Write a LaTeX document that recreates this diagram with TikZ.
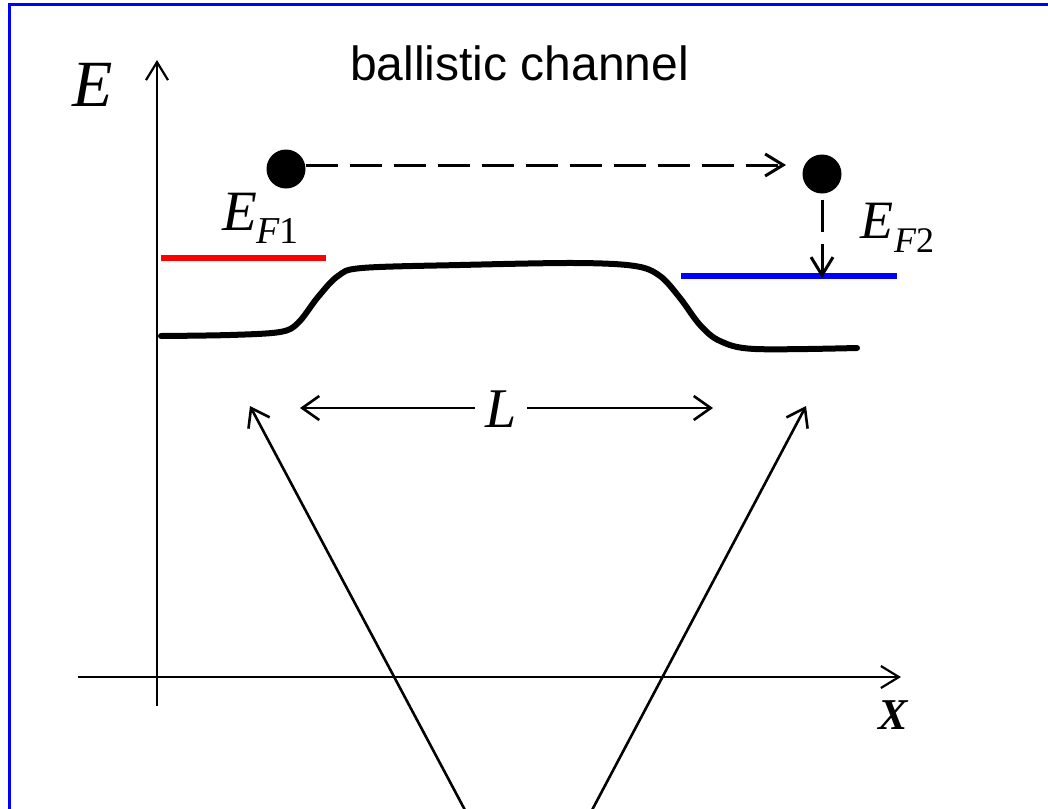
\documentclass[tikz,border=0pt]{standalone}
\usepackage{fontspec}
\setmainfont{Liberation Serif}
\newfontfamily\arialf{Liberation Sans}
\usetikzlibrary{arrows.meta}
\begin{document}
\begin{tikzpicture}[x=1pt,y=-1pt,
  axis/.style={line width=2.2pt,-{Straight Barb[length=18pt,width=22pt]}},
  thinarrow/.style={line width=2.6pt,-{Straight Barb[length=17pt,width=24pt]}},
  dasharrow/.style={line width=3pt,dash pattern=on 32pt off 12pt,-{Straight Barb[length=18pt,width=22pt]}},
  electron/.style={circle,fill=black,inner sep=0pt,minimum size=39pt},
  level/.style={line width=6pt},
  band/.style={line width=6pt,line cap=round,line join=round},
  lbl/.style={inner sep=0pt,anchor=base west},
]
\useasboundingbox (0,0) rectangle (1048,808);
\fill[white] (0,0) rectangle (1048,808);
% frame
\draw[blue,line width=3pt] (9,810) -- (9,5) -- (1050,5);

% axes
\coordinate (yb) at (157,706);
\coordinate (yt) at (157,60);
\coordinate (xl) at (78,677);
\coordinate (xr) at (901,677);
\draw[axis] (yb) -- (yt);
\draw[axis] (xl) -- (xr);
\node[lbl,font=\fontsize{66}{66}\selectfont\itshape] (E) at (72,106) {E};
\node[lbl,font=\fontsize{44}{44}\selectfont\bfseries\itshape] (X) at (878,729) {X};

% title
\node[lbl,font=\arialf\fontsize{48}{48}\selectfont] (title) at (350,80) {ballistic channel};

% Fermi levels
\coordinate (r1) at (161,258);
\coordinate (r2) at (326,258);
\draw[level,red] (r1) -- (r2);
\coordinate (b1) at (681,276);
\coordinate (b2) at (897,276);
\draw[level,blue] (b1) -- (b2);

\node[lbl,font=\fontsize{57}{57}\selectfont\itshape] (EF1) at (222,230) {E};
\node[lbl,font=\fontsize{38}{38}\selectfont] (EF1s) at (256,243) {\itshape F\upshape 1};
\node[lbl,font=\fontsize{54}{54}\selectfont\itshape] (EF2) at (860,238) {E};
\node[lbl,font=\fontsize{36}{36}\selectfont] (EF2s) at (894,252) {\itshape F\upshape 2};

% band profile
\draw[band] plot[smooth,tension=0.55] coordinates {(161,336) (230,335) (280,332) (298,323) (318,297) (338,276) (362,268) (460,265) (575,263) (635,266) (660,276) (680,298) (700,325) (720,341) (755,349) (857,348)};

% electrons
\node[electron] (e1) at (286,169) {};
\node[electron] (e2) at (822,174) {};
\coordinate (h2) at (786,165);
\draw[dasharrow] (e1.east |- h2) -- (h2);
\coordinate (v2) at (822,278);
\draw[dasharrow] ([yshift=-6pt]e2.south) -- (v2);

% length L
\node[inner sep=0pt,minimum width=52pt,minimum height=40pt,font=\fontsize{56}{56}\selectfont\itshape] (L) at (501,409) {L};
\coordinate (La) at (300,408);
\coordinate (Lb) at (713,408);
\draw[thinarrow] (L.west |- La) -- (La);
\draw[thinarrow] (L.east |- Lb) -- (Lb);

% V lines
\coordinate (vl0) at (466,812);
\coordinate (vl1) at (250,406);
\coordinate (vr0) at (591,812);
\coordinate (vr1) at (806,406);
\draw[thinarrow] (vl0) -- (vl1);
\draw[thinarrow] (vr0) -- (vr1);
\end{tikzpicture}
\end{document}
